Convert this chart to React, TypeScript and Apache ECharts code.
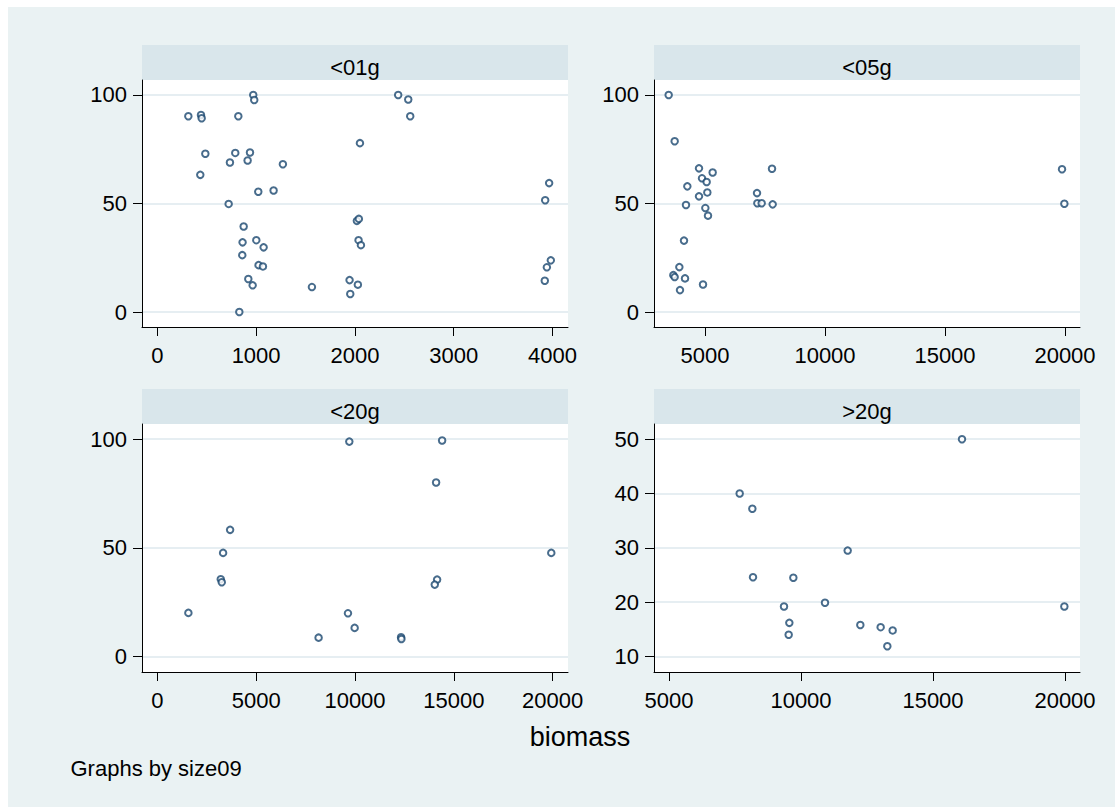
import React, { useEffect, useRef } from "react";
import * as echarts from "echarts";

const panelTitles = ["<01g", "<05g", "<20g", ">20g"];

const bio01 = [314, 442, 449, 820, 971, 981, 2438, 2540, 2560, 2051, 486, 789, 938, 735, 914, 1271, 435, 1022, 1177, 3966, 3926, 722, 2020, 2040, 874, 863, 1002, 1076, 860, 2037, 2061, 3983, 3943, 3922, 1025, 1069, 921, 965, 1565, 1946, 2030, 1953, 830];
const val01 = [90.2, 90.8, 89.3, 90.2, 100, 97.7, 100, 97.9, 90.2, 77.8, 72.9, 73.3, 73.5, 68.9, 69.8, 68.1, 63.2, 55.4, 56.0, 59.4, 51.5, 49.8, 42.0, 42.9, 39.4, 32.1, 33.1, 29.8, 26.2, 33.1, 30.8, 23.8, 20.6, 14.4, 21.6, 21.0, 15.2, 12.3, 11.5, 14.7, 12.6, 8.3, 0];

const bio05 = [3486, 3736, 4750, 4875, 5069, 5319, 4264, 4750, 5097, 4208, 5014, 5125, 4125, 3931, 3680, 3736, 4167, 3958, 4917, 7167, 7181, 7361, 7792, 7820, 19876, 19973];
const val05 = [100, 78.7, 66.2, 61.6, 59.9, 64.3, 57.9, 53.3, 55.1, 49.3, 47.9, 44.4, 32.9, 20.7, 17.0, 16.1, 15.5, 10.1, 12.7, 54.8, 50.1, 50.1, 66.0, 49.6, 65.8, 49.9];

const bio20 = [1571, 3209, 3260, 3327, 3682, 9712, 14407, 14103, 14154, 14035, 19929, 9644, 9982, 8158, 12330, 12347];
const val20 = [20.1, 35.6, 34.2, 47.7, 58.3, 98.9, 99.4, 80.1, 35.4, 33.1, 47.7, 19.9, 13.2, 8.7, 8.9, 8.1];

const bioOver20 = [7677, 8157, 8182, 9710, 9356, 9558, 9533, 10909, 11768, 12247, 13017, 13472, 13270, 16098, 19975];
const valOver20 = [40.0, 37.2, 24.6, 24.5, 19.2, 16.2, 14.0, 19.9, 29.5, 15.8, 15.4, 14.8, 11.9, 50, 19.2];

const xTicks01 = [0, 1000, 2000, 3000, 4000];
const xTicks05 = [5000, 10000, 15000, 20000];
const xTicks20 = [0, 5000, 10000, 15000, 20000];
const xTicksOver20 = [5000, 10000, 15000, 20000];
const yTicksPct = [0, 50, 100];
const yTicksOver20 = [10, 20, 30, 40, 50];

const xTitle = "biomass";
const noteText = "Graphs by size09";

const FONT = "'Liberation Sans', Arial, Helvetica, sans-serif";
const BG = "#eaf2f3";
const STRIP = "#d9e6eb";
const MARK = "#1a476f";

export default function App() {
  const ref = useRef<HTMLDivElement>(null);

  useEffect(() => {
    if (!ref.current) return;
    const chart = echarts.init(ref.current, undefined, { renderer: "svg" });

    const panels = [
      { x: bio01, y: val01, xt: xTicks01, yt: yTicksPct, xmin: -155, xmax: 4157, ymin: -6.9, ymax: 106.9 },
      { x: bio05, y: val05, xt: xTicks05, yt: yTicksPct, xmin: 2875, xmax: 20625, ymin: -6.9, ymax: 106.9 },
      { x: bio20, y: val20, xt: xTicks20, yt: yTicksPct, xmin: -775, xmax: 20775, ymin: -7.1, ymax: 107 },
      { x: bioOver20, y: valOver20, xt: xTicksOver20, yt: yTicksOver20, xmin: 4432, xmax: 20568, ymin: 7.15, ymax: 52.8 },
    ];

    const gridPos = [
      { left: 134, top: 73, width: 426, height: 247 },
      { left: 646, top: 73, width: 426, height: 247 },
      { left: 134, top: 417, width: 426, height: 248 },
      { left: 646, top: 417, width: 426, height: 248 },
    ];

    const labelStyle = { color: "#000", fontSize: 22, fontFamily: FONT };

    const grids = gridPos.map((g) => ({
      ...g,
      show: true,
      backgroundColor: "#ffffff",
      borderWidth: 0,
      containLabel: false,
      outerBoundsMode: "none",
    }));

    const xAxes = panels.map((p, i) => ({
      type: "value",
      gridIndex: i,
      min: p.xmin,
      max: p.xmax,
      axisLine: { show: true, onZero: false, lineStyle: { color: "#000", width: 1 } },
      axisTick: { show: true, length: 9, customValues: p.xt, lineStyle: { color: "#000", width: 1 } },
      axisLabel: { ...labelStyle, margin: 17, customValues: p.xt, formatter: (v: number) => String(v) },
      splitLine: { show: false },
    }));

    const yAxes = panels.map((p, i) => ({
      type: "value",
      gridIndex: i,
      min: p.ymin,
      max: p.ymax,
      axisLine: { show: true, onZero: false, lineStyle: { color: "#000", width: 1 } },
      axisTick: { show: true, length: 9, customValues: p.yt, lineStyle: { color: "#000", width: 1 } },
      axisLabel: { ...labelStyle, margin: 15, customValues: p.yt, formatter: (v: number) => String(v) },
      splitLine: { show: true, lineStyle: { color: "#e6eef2", width: 2 } },
    }));

    const series = panels.map((p, i) => ({
      type: "scatter",
      xAxisIndex: i,
      yAxisIndex: i,
      symbol: "circle",
      symbolSize: 6.5,
      itemStyle: { color: "#ffffff", borderColor: MARK, borderWidth: 2 },
      data: p.x.map((v, k) => [v, p.y[k]]),
      silent: true,
    }));

    const stripTops = [38, 38, 382, 382];
    const graphic: any[] = [];
    gridPos.forEach((g, i) => {
      graphic.push({
        type: "rect",
        shape: { x: g.left, y: stripTops[i], width: g.width, height: g.top - stripTops[i] },
        style: { fill: STRIP },
        silent: true,
      });
      graphic.push({
        type: "text",
        x: g.left + g.width / 2,
        y: stripTops[i] + 22.5,
        style: {
          text: panelTitles[i],
          fill: "#000",
          font: `22px ${FONT}`,
          textAlign: "center",
          textVerticalAlign: "middle",
        },
        silent: true,
      });
    });
    graphic.push({
      type: "text",
      x: 572,
      y: 730,
      style: { text: xTitle, fill: "#000", font: `27px ${FONT}`, textAlign: "center", textVerticalAlign: "middle" },
      silent: true,
    });
    graphic.push({
      type: "text",
      x: 62.5,
      y: 761,
      style: { text: noteText, fill: "#000", font: `22px ${FONT}`, textAlign: "left", textVerticalAlign: "middle" },
      silent: true,
    });

    chart.setOption({
      animation: false,
      backgroundColor: BG,
      grid: grids,
      xAxis: xAxes,
      yAxis: yAxes,
      series,
      graphic,
    } as any);

    return () => chart.dispose();
  }, []);

  return (
    <div
      ref={ref}
      style={{ position: "absolute", left: 8, top: 7, width: 1107, height: 800 }}
    />
  );
}
